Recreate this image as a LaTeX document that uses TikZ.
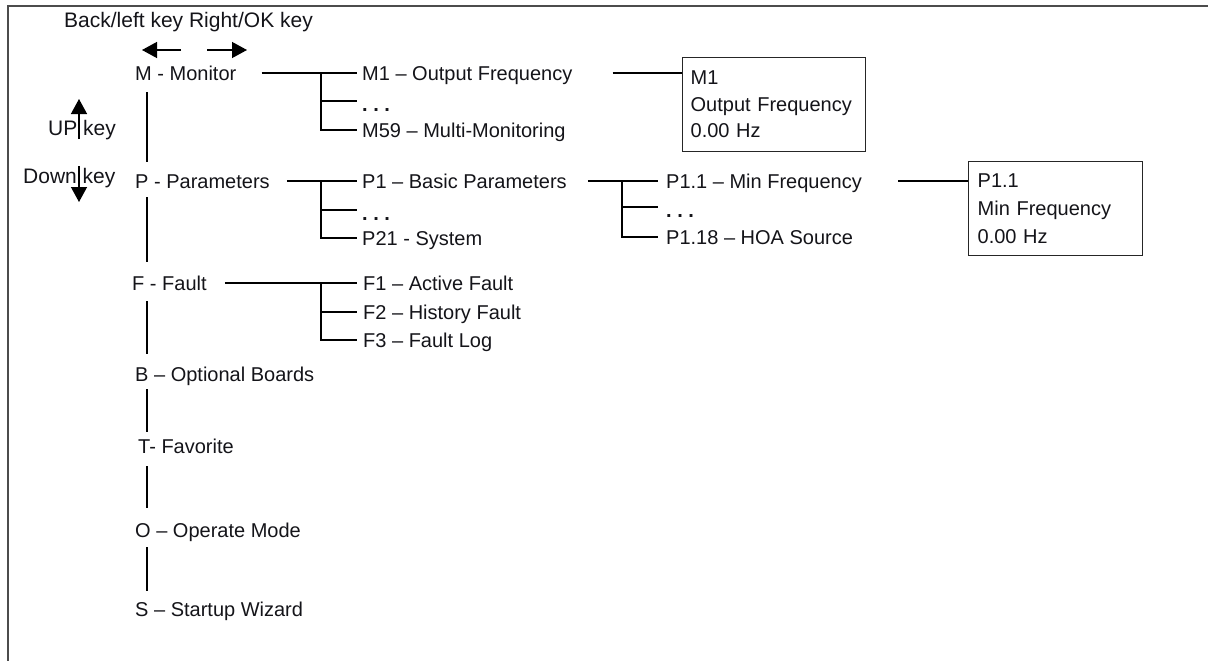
\documentclass[tikz,border=0pt]{standalone}
\usepackage{fontspec}
\setmainfont{Liberation Sans}
\usetikzlibrary{arrows.meta,calc}
\definecolor{ink}{rgb}{0.08,0.08,0.1}
\definecolor{framec}{gray}{0.3}
\begin{document}
\begin{tikzpicture}[x=1pt,y=-1pt,
  lbl/.style={inner sep=0pt, anchor=west, text height=15pt, text depth=0pt, font=\fontsize{20pt}{24pt}\selectfont, text=ink},
  dotlbl/.style={lbl, text height=20pt, font=\fontsize{20pt}{24pt}\selectfont\bfseries},
  keylbl/.style={inner sep=0pt, anchor=base west, font=\fontsize{21pt}{25pt}\selectfont, text=ink},
  conn/.style={draw=black, line width=1.3pt},
  keyarrow/.style={conn, -{Triangle[length=15pt,width=16pt]}},
  vbox/.style={draw=black!85, line width=1.3pt, rectangle, anchor=north west, align=left, inner ysep=0pt, minimum height=94pt, text=ink}
]
\useasboundingbox (0,0) rectangle (1208,661);
% frame
\draw[framec, line width=1.6pt] (8,661) -- (8,6) -- (1208,6);

% key legend
\node[keylbl] (hdr) at (64,28) {Back/left key Right/OK key};
\node[keylbl] (upk) at (48,135) {UP key};
\node[keylbl] (dnk) at (23,183) {Down key};
\coordinate (la0) at (181,50); \coordinate (la1) at (142,50);
\coordinate (ra0) at (207,50); \coordinate (ra1) at (247,50);
\coordinate (ua0) at (79,139); \coordinate (ua1) at (79,99);
\coordinate (da0) at (79,166); \coordinate (da1) at (79,202);
\draw[keyarrow] (la0) -- (la1);
\draw[keyarrow] (ra0) -- (ra1);
\draw[keyarrow] (ua0) -- (ua1);
\draw[keyarrow] (da0) -- (da1);

% main column
\node[lbl] (m) at (135,73) {M - Monitor};
\node[lbl] (p) at (135,181) {P - Parameters};
\node[lbl] (f) at (132,283) {F - Fault};
\node[lbl] (b) at (135,374) {B – Optional Boards};
\node[lbl] (t) at (138,445.5) {T- Favorite};
\node[lbl] (o) at (135,530) {O – Operate Mode};
\node[lbl] (s) at (135,608.5) {S – Startup Wizard};

\coordinate (col) at (147,0);
\draw[conn] ($(col|-m.south)+(0,11.5)$) -- ($(col|-p.north)+(0,-11.5)$);
\draw[conn] ($(col|-p.south)+(0,8.5)$) -- ($(col|-f.north)+(0,-13.5)$);
\draw[conn] ($(col|-f.south)+(0,10.5)$) -- ($(col|-b.north)+(0,-12.5)$);
\draw[conn] ($(col|-b.south)+(0,7.5)$) -- ($(col|-t.north)+(0,-6)$);
\draw[conn] ($(col|-t.south)+(0,13)$) -- ($(col|-o.north)+(0,-14.5)$);
\draw[conn] ($(col|-o.south)+(0,9.5)$) -- ($(col|-s.north)+(0,-10)$);

% Monitor branch
\node[lbl] (m1) at (362,73) {M1 – Output Frequency};
\node[dotlbl] (mdots) at (362,101) {.\ .\ .};
\node[lbl] (m59) at (362,130) {M59 – Multi-Monitoring};
\coordinate (jm) at (321,0);
\draw[conn] ($(m.east)+(25,0)$) -- ($(m1.west)+(-5,0)$);
\draw[conn] (jm|-m1.west) |- ($(m59.west)+(-5,0)$);
\draw[conn] (jm|-mdots.west) -- ($(mdots.west)+(-5,0)$);
\node[vbox, text width=167pt, inner xsep=8pt, font=\fontsize{20pt}{26.5pt}\selectfont] (mbox) at (682,57) {M1\\Output Frequency\\0.00 Hz};
\draw[conn] ($(m1.east)+(40,0)$) -- (m1.east -| mbox.west);

% Parameters branch
\node[lbl] (p1) at (362,181) {P1 – Basic Parameters};
\node[dotlbl] (pdots) at (362,210) {.\ .\ .};
\node[lbl] (p21) at (362,238) {P21 - System};
\coordinate (jp) at (321,0);
\draw[conn] ($(p.east)+(17,0)$) -- ($(p1.west)+(-5,0)$);
\draw[conn] (jp|-p1.west) |- ($(p21.west)+(-5,0)$);
\draw[conn] (jp|-pdots.west) -- ($(pdots.west)+(-5,0)$);

\node[lbl] (p11) at (666,181) {P1.1 – Min Frequency};
\node[dotlbl] (p1dots) at (666,207) {.\ .\ .};
\node[lbl] (p118) at (666,237) {P1.18 – HOA Source};
\coordinate (jp1) at (622,0);
\draw[conn] ($(p1.east)+(21,0)$) -- ($(p11.west)+(-8,0)$);
\draw[conn] (jp1|-p11.west) |- ($(p118.west)+(-8,0)$);
\draw[conn] (jp1|-p1dots.west) -- ($(p1dots.west)+(-8,0)$);
\node[vbox, text width=156pt, inner xsep=9pt, font=\fontsize{20pt}{28pt}\selectfont] (pbox) at (968,161) {P1.1\\Min Frequency\\0.00 Hz};
\draw[conn] ($(p11.east)+(36,0)$) -- (p11.east -| pbox.west);

% Fault branch
\node[lbl] (f1) at (363,283) {F1 – Active Fault};
\node[lbl] (f2) at (363,312) {F2 – History Fault};
\node[lbl] (f3) at (363,340) {F3 – Fault Log};
\coordinate (jf) at (321,0);
\draw[conn] ($(f.east)+(18,0)$) -- ($(f1.west)+(-6,0)$);
\draw[conn] (jf|-f1.west) |- ($(f3.west)+(-6,0)$);
\draw[conn] (jf|-f2.west) -- ($(f2.west)+(-6,0)$);
\end{tikzpicture}
\end{document}
